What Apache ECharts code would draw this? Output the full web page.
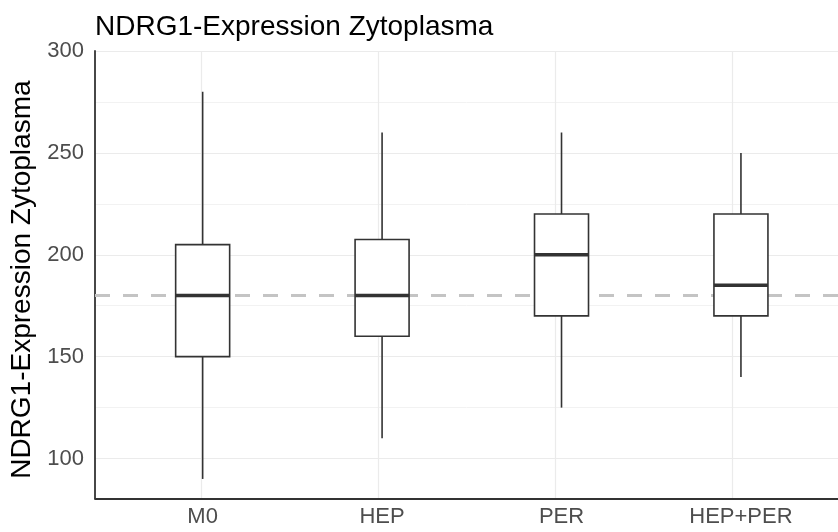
<!DOCTYPE html>
<html>
<head>
<meta charset="utf-8">
<script src="https://cdn.jsdelivr.net/npm/echarts@6/dist/echarts.min.js"></script>
<style>html,body{margin:0;padding:0;background:#fff}#c{width:838px;height:532px}</style>
</head>
<body>
<div id="c"></div>
<script>
// ---- data ----
const categories = ['M0', 'HEP', 'PER', 'HEP+PER'];
const whiskerLow  = [90, 110, 125, 140];
const q1          = [150, 160, 170, 170];
const median      = [180, 180, 200, 185];
const q3          = [205, 207.5, 220, 220];
const whiskerHigh = [280, 260, 260, 250];
const referenceLine = 180;
const yTicks = [100, 150, 200, 250, 300];
const yMinorTicks = [125, 175, 225, 275];
const yMin = 80.5, yMax = 300;

const boxData = categories.map((c, i) => [i, whiskerLow[i], q1[i], median[i], q3[i], whiskerHigh[i]]);
const xPositions = categories.map((c, i) => i + 1);

const BOX_W = 54;
function renderBox(params, api) {
  const x = api.value(0);
  const pLow = api.coord([x, api.value(1)]);
  const pQ1 = api.coord([x, api.value(2)]);
  const pMed = api.coord([x, api.value(3)]);
  const pQ3 = api.coord([x, api.value(4)]);
  const pHigh = api.coord([x, api.value(5)]);
  const cx = pMed[0];
  const half = BOX_W / 2;
  const stroke = {stroke: '#333333', lineWidth: 1.6, fill: null};
  return {
    type: 'group',
    children: [
      {type: 'line', shape: {x1: cx, y1: pHigh[1], x2: cx, y2: pQ3[1]}, style: stroke},
      {type: 'line', shape: {x1: cx, y1: pQ1[1], x2: cx, y2: pLow[1]}, style: stroke},
      {type: 'rect', shape: {x: cx - half, y: pQ3[1], width: BOX_W, height: pQ1[1] - pQ3[1]},
        style: {fill: '#ffffff', stroke: '#333333', lineWidth: 1.6}},
      {type: 'line', shape: {x1: cx - half, y1: pMed[1], x2: cx + half, y2: pMed[1]},
        style: {stroke: '#333333', lineWidth: 3.5}}
    ]
  };
}

const font = '"Liberation Sans", Arial, sans-serif';
const chart = echarts.init(document.getElementById('c'), null, {renderer: 'canvas'});
chart.setOption({
  animation: false,
  backgroundColor: '#ffffff',
  title: {
    text: 'NDRG1-Expression Zytoplasma',
    left: 95, top: 13, padding: 0,
    textStyle: {fontFamily: font, fontSize: 28, fontWeight: 'normal', color: '#000'}
  },
  grid: [
    {left: 95, right: -10.6, top: 51, bottom: 33.7},
    {left: 112.94, right: 7.34, top: 51, bottom: 33.7}
  ],
  xAxis: [
    {
      gridIndex: 0, type: 'value', min: 0.4, max: 4.6,
      axisLine: {show: true, onZero: false, lineStyle: {color: '#333', width: 1.8}},
      axisTick: {show: false, customValues: xPositions},
      axisLabel: {show: false},
      splitLine: {show: true, lineStyle: {color: '#ebebeb', width: 1.2}}
    },
    {
      gridIndex: 1, type: 'category', data: categories,
      axisLine: {show: false}, axisTick: {show: false},
      splitLine: {show: false},
      axisLabel: {fontFamily: font, fontSize: 22, color: '#4d4d4d', margin: 8}
    }
  ],
  yAxis: [
    {
      gridIndex: 0, type: 'value', min: yMin, max: yMax,
      name: 'NDRG1-Expression Zytoplasma', nameLocation: 'middle', nameGap: 56,
      nameTextStyle: {fontFamily: font, fontSize: 28, color: '#000', padding: [0, 10, 0, 0]},
      axisLine: {show: true, onZero: false, lineStyle: {color: '#333', width: 1.8}},
      axisTick: {show: false, customValues: yTicks},
      axisLabel: {customValues: yTicks, fontFamily: font, fontSize: 22, color: '#4d4d4d', margin: 11},
      splitLine: {show: true, lineStyle: {color: '#ebebeb', width: 1.2}}
    },
    {
      gridIndex: 0, type: 'value', min: yMin, max: yMax,
      axisLine: {show: false},
      axisTick: {show: false, customValues: yMinorTicks},
      axisLabel: {show: false},
      splitLine: {show: true, lineStyle: {color: '#f2f2f2', width: 1}}
    },
    {
      gridIndex: 1, type: 'value', min: yMin, max: yMax,
      axisLine: {show: false}, axisTick: {show: false}, axisLabel: {show: false},
      splitLine: {show: false}
    }
  ],
  series: [
    {
      type: 'line', xAxisIndex: 0, yAxisIndex: 0, data: [], z: 1,
      markLine: {
        silent: true, symbol: 'none', label: {show: false}, z: 1,
        lineStyle: {type: [15, 13], color: '#c4c4c4', width: 3},
        data: [{yAxis: referenceLine}]
      }
    },
    {
      type: 'custom', xAxisIndex: 1, yAxisIndex: 2, z: 10,
      data: boxData, renderItem: renderBox,
      encode: {x: 0, y: [1, 2, 3, 4, 5]}
    }
  ]
});
</script>
</body>
</html>
